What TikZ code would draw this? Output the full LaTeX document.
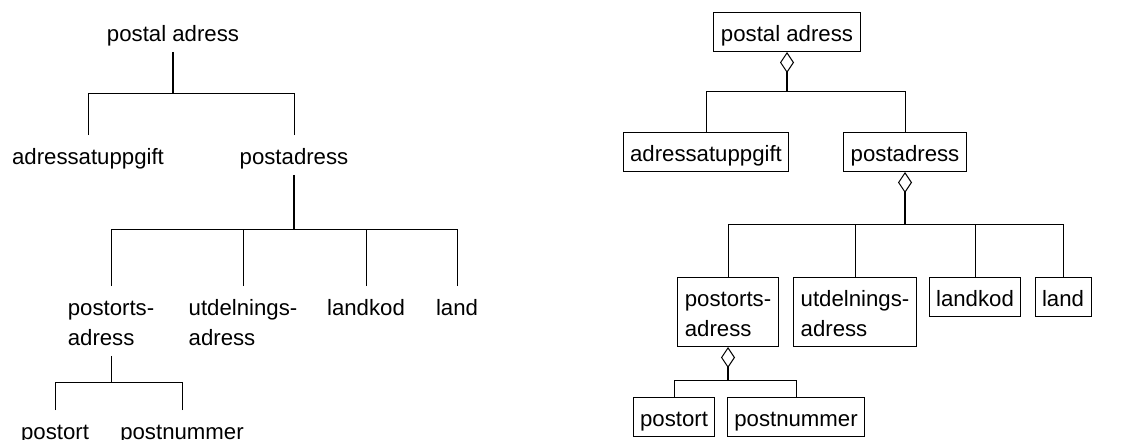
\documentclass[tikz,border=0pt]{standalone}
\usepackage{fontspec}
\setmainfont{Liberation Sans}
\usetikzlibrary{arrows.meta}

\begin{document}
\begin{tikzpicture}[x=0.5pt, y=-0.5pt,
                    every node/.style={anchor=north, inner xsep=3.5pt, font=\fontsize{11.1}{15}\selectfont},
                    part/.style={text height=10pt, text depth=0.5pt, minimum height=19.5pt},
                    part2/.style={align=left, text height=24.5pt, text depth=0pt, minimum height=34.5pt},
                    box/.style={draw, line width=0.5pt},
                    branch/.style={line width=0.5pt},
                    trunk/.style={line width=1pt},
                    agg/.style={trunk, {Diamond[open, length=10.5pt, width=7pt, line width=0.5pt]}-}
                    ]
                    \useasboundingbox (0,0) rectangle (1140,439);

                    % left: plain tree
                    \node[part] (l0) at (173,12) {postal adress};
                    \node[part] (l1) at (88,135) {adressatuppgift};
                    \node[part] (l2) at (294,135) {postadress};
                    \node[part2] (l3) at (111,286) {postorts-\\adress};
                    \node[part2] (l4) at (243,286) {utdelnings-\\adress};
                    \node[part] (l5) at (366,286) {landkod};
                    \node[part] (l6) at (457,286) {land};
                    \node[part] (l7) at (55,410) {postort};
                    \node[part] (l8) at (182,410) {postnummer};

                    \draw[trunk] (l0.south) -- (l0.south |- 0,93);
                    \draw[trunk] (l2.south) -- (l2.south |- 0,229);
                    \draw[branch] (l3.south) -- (l3.south |- 0,382);
                    \foreach \i/\j/\y in {l0/l1/93,l0/l2/93,l2/l3/229,l2/l4/229,l2/l5/229,l2/l6/229,l3/l7/382,l3/l8/382}{
                        \draw[branch] (\j.north) |- (\i.south |- 0,\y);
                    }

                    % right: boxes with aggregation
                    \node[part, box] (r0) at (787,12) {postal adress};
                    \node[part, box] (r1) at (706,132) {adressatuppgift};
                    \node[part, box] (r2) at (905,132) {postadress};
                    \node[part2, box] (r3) at (728,277) {postorts-\\adress};
                    \node[part2, box] (r4) at (855,277) {utdelnings-\\adress};
                    \node[part, box] (r5) at (975,277) {landkod};
                    \node[part, box] (r6) at (1063,277) {land};
                    \node[part, box] (r7) at (674,397) {postort};
                    \node[part, box] (r8) at (796,397) {postnummer};

                    \foreach \i/\y in {r0/91,r2/224,r3/380}{
                        \draw[agg] (\i.south) -- (\i.south |- 0,\y);
                    }
                    \foreach \i/\j/\y in {r0/r1/91,r0/r2/91,r2/r3/224,r2/r4/224,r2/r5/224,r2/r6/224,r3/r7/380,r3/r8/380}{
                        \draw[branch] (\j.north) |- (\i.south |- 0,\y);
                    }

                \end{tikzpicture}
\end{document}
